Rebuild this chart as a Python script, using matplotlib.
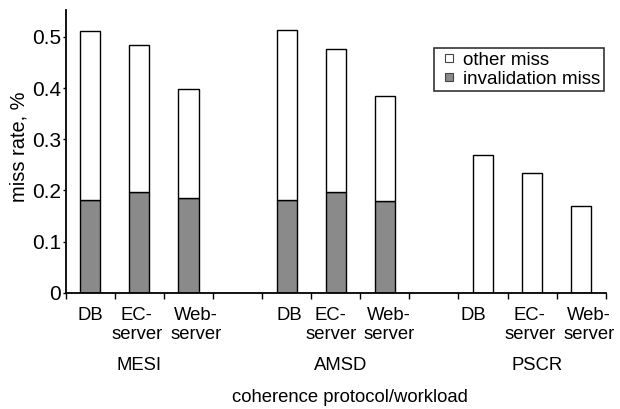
import numpy as np
import matplotlib.pyplot as plt
from matplotlib.lines import Line2D

plt.rcParams['font.family'] = ['Liberation Sans', 'DejaVu Sans']

protocols = ['MESI', 'AMSD', 'PSCR']
workloads = ['DB', 'EC-\nserver', 'Web-\nserver']

# total and invalidation miss rates per protocol (DB, EC-server, Web-server)
total = {
    'MESI': [0.511, 0.484, 0.399],
    'AMSD': [0.513, 0.476, 0.385],
    'PSCR': [0.270, 0.235, 0.170],
}
invalidation = {
    'MESI': [0.182, 0.197, 0.186],
    'AMSD': [0.181, 0.197, 0.180],
    'PSCR': [0.0, 0.0, 0.0],
}

INV_COLOR = '#8a8a8a'

fig = plt.figure(figsize=(6.2, 4.09), dpi=100)
ax = fig.add_axes([0.106, 0.284, 0.871, 0.692])

pos = []
for g, p in enumerate(protocols):
    for w in range(3):
        pos.append(g * 4 + w)

inv = np.concatenate([invalidation[p] for p in protocols])
tot = np.concatenate([total[p] for p in protocols])
other = tot - inv

w = 0.41
ax.bar(pos, inv, w, color=INV_COLOR, edgecolor='black', linewidth=1.0)
ax.bar(pos, other, w, bottom=inv, color='white', edgecolor='black',
       linewidth=1.0)

ax.set_xlim(-0.5, 10.5)
ax.set_ylim(0, 0.553)
ax.set_yticks([0, 0.1, 0.2, 0.3, 0.4, 0.5])
ax.set_yticklabels(['0', '0.1', '0.2', '0.3', '0.4', '0.5'])
ax.set_xticks(np.arange(-0.5, 11, 1))
ax.set_xticklabels([])
ax.tick_params(axis='x', length=4, width=1.0, direction='out')
ax.tick_params(axis='y', labelsize=15, length=2.5, width=1.0, pad=1)

for s in ['top', 'right']:
    ax.spines[s].set_visible(False)
for s in ['left', 'bottom']:
    ax.spines[s].set_linewidth(1.3)

# workload labels under each bar; wrapped text sits a little off-centre
nudge = [0, -0.05, 0.16, 0.05, -0.1, 0.08, -0.2, -0.05, 0.16]
for i, x in enumerate(pos):
    ax.annotate(workloads[i % 3], xy=(x + nudge[i], 0),
                xycoords=('data', 'axes fraction'), xytext=(0, -10),
                textcoords='offset points', ha='center', va='top',
                fontsize=13.3, linespacing=1.15)

for g, p in enumerate(protocols):
    ax.text(g * 4 + 1 + (0.1 if g else 0), -0.141, p, ha='center',
            va='center', fontsize=13.3)

fig.text(19 / 620, 1 - 146.5 / 409, 'miss rate, %', rotation=90,
         ha='center', va='center', fontsize=14.4)
fig.text(0.565, 0.027, 'coherence protocol/workload', ha='center',
         va='center', fontsize=13.3)

handles = [
    Line2D([], [], marker='s', linestyle='none', markersize=5.2,
           markerfacecolor='white', markeredgecolor='#444444',
           markeredgewidth=0.8),
    Line2D([], [], marker='s', linestyle='none', markersize=5.2,
           markerfacecolor=INV_COLOR, markeredgecolor='#444444',
           markeredgewidth=0.8),
]
leg = ax.legend(handles, ['other miss', 'invalidation miss'],
                loc='upper right', bbox_to_anchor=(0.996, 0.866),
                prop={'size': 13.5}, frameon=True, fancybox=False,
                edgecolor='black', handlelength=1.25, handletextpad=0.1,
                borderpad=0.2, labelspacing=0.1, borderaxespad=0)
leg.get_frame().set_linewidth(1.2)

fig.savefig('out.png', dpi=100)
